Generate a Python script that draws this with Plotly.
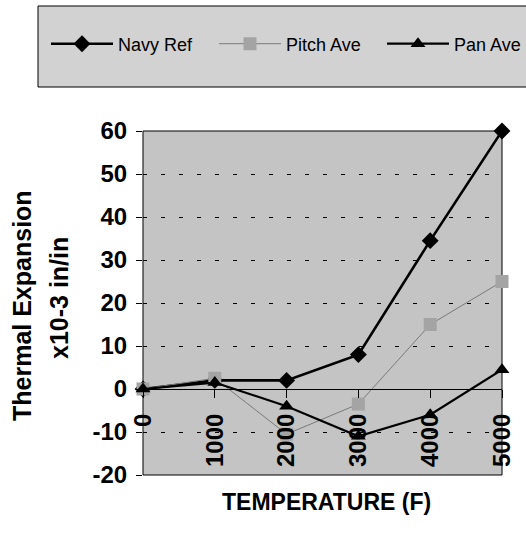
import plotly.graph_objects as go

# Temperature (F) and thermal expansion (x10-3 in/in) for each material
temperature = [0, 1000, 2000, 3000, 4000, 5000]
navy_ref = [0, 2, 2, 8, 34.5, 60]
pitch_ave = [0, 2.5, -10.5, -3.5, 15, 25]
pan_ave = [0, 1.5, -4, -11, -6, 4.5]

y_ticks = [-20, -10, 0, 10, 20, 30, 40, 50, 60]
x_ticks = [0, 1000, 2000, 3000, 4000, 5000]

Y_MIN, Y_MAX = -20, 60
FONT = "Arial, Liberation Sans, sans-serif"
PLOT_BG = "#c4c4c4"
LEGEND_BG = "#d2d2d2"

# plot area in pixels (left, top, width, height)
PL, PT, PW, PH = 143, 131, 359, 344


def px_x(px):
    return (px - PL) / PW


def px_y(py):
    return (PT + PH - py) / PH


fig = go.Figure()
fig.add_trace(go.Scatter(
    x=temperature, y=navy_ref, name="Navy Ref", mode="lines+markers",
    line=dict(color="black", width=2.6),
    marker=dict(symbol="diamond", size=13, color="black"),
    cliponaxis=False, legend="legend",
))
fig.add_trace(go.Scatter(
    x=temperature, y=pitch_ave, name="Pitch Ave", mode="lines+markers",
    line=dict(color="#7a7a7a", width=1),
    marker=dict(symbol="square", size=13, color="#a4a4a4"),
    cliponaxis=False, legend="legend2",
))
fig.add_trace(go.Scatter(
    x=temperature, y=pan_ave, name="Pan Ave", mode="lines+markers",
    line=dict(color="black", width=2.2),
    marker=dict(symbol="triangle-up", size=13, color="black"),
    cliponaxis=False, legend="legend3",
))

# x axis crosses the y axis at zero
zero_pos = (0 - Y_MIN) / (Y_MAX - Y_MIN)

tickfont = dict(family=FONT, size=24, color="black", weight="bold")
legend_font = dict(family=FONT, size=18, color="black")


def legend_at(px):
    return dict(
        orientation="h", x=px_x(px), xanchor="left", y=px_y(44), yanchor="middle",
        bgcolor="rgba(0,0,0,0)", borderwidth=0, font=legend_font, itemwidth=62,
    )


fig.update_layout(
    width=526, height=546,
    margin=dict(l=PL, r=526 - PL - PW, t=PT, b=546 - PT - PH, autoexpand=False),
    paper_bgcolor="white",
    plot_bgcolor=PLOT_BG,
    showlegend=True,
    legend=legend_at(46),
    legend2=legend_at(214),
    legend3=legend_at(382),
    xaxis=dict(
        range=[0, 5000], tickvals=x_ticks, ticktext=[str(v) for v in x_ticks],
        anchor="free", position=zero_pos,
        showgrid=False, zeroline=False,
        showline=True, linecolor="black", linewidth=1,
        ticks="outside", ticklen=8, tickcolor="black",
        tickangle=-90, tickfont=tickfont, ticklabelstandoff=6,
    ),
    xaxis2=dict(
        range=[0, 5000], tickvals=x_ticks, overlaying="x",
        anchor="free", position=zero_pos, side="bottom",
        showgrid=False, zeroline=False, showline=False,
        ticks="inside", ticklen=6, tickcolor="black", showticklabels=False,
    ),
    yaxis=dict(
        range=[Y_MIN, Y_MAX], tickvals=y_ticks, ticktext=[str(v) for v in y_ticks],
        showgrid=True, gridcolor="black", gridwidth=1, griddash="4px,14px",
        zeroline=False,
        showline=False,
        ticks="outside", ticklen=6, tickcolor="black",
        tickfont=tickfont, ticklabelstandoff=4,
    ),
    shapes=[
        # legend frame
        dict(type="rect", xref="paper", yref="paper",
             x0=px_x(38), x1=px_x(540), y0=px_y(87), y1=px_y(6),
             line=dict(color="black", width=1), fillcolor=LEGEND_BG, layer="below"),
        # plot frame
        dict(type="rect", xref="x domain", yref="y domain",
             x0=0, x1=1, y0=0, y1=1,
             line=dict(color="black", width=1), fillcolor="rgba(0,0,0,0)", layer="below"),
    ],
    annotations=[
        dict(text="TEMPERATURE (F)", xref="paper", yref="paper",
             x=px_x(326), y=px_y(502), showarrow=False, xanchor="center", yanchor="middle",
             font=dict(family=FONT, size=23, color="black", weight="bold")),
        dict(text="Thermal Expansion", xref="paper", yref="paper",
             x=px_x(22), y=px_y(306), showarrow=False, textangle=-90,
             xanchor="center", yanchor="middle",
             font=dict(family=FONT, size=25, color="black", weight="bold")),
        dict(text="x10-3 in/in", xref="paper", yref="paper",
             x=px_x(59), y=px_y(298), showarrow=False, textangle=-90,
             xanchor="center", yanchor="middle",
             font=dict(family=FONT, size=25, color="black", weight="bold")),
    ],
)

fig.write_html("out.html")
